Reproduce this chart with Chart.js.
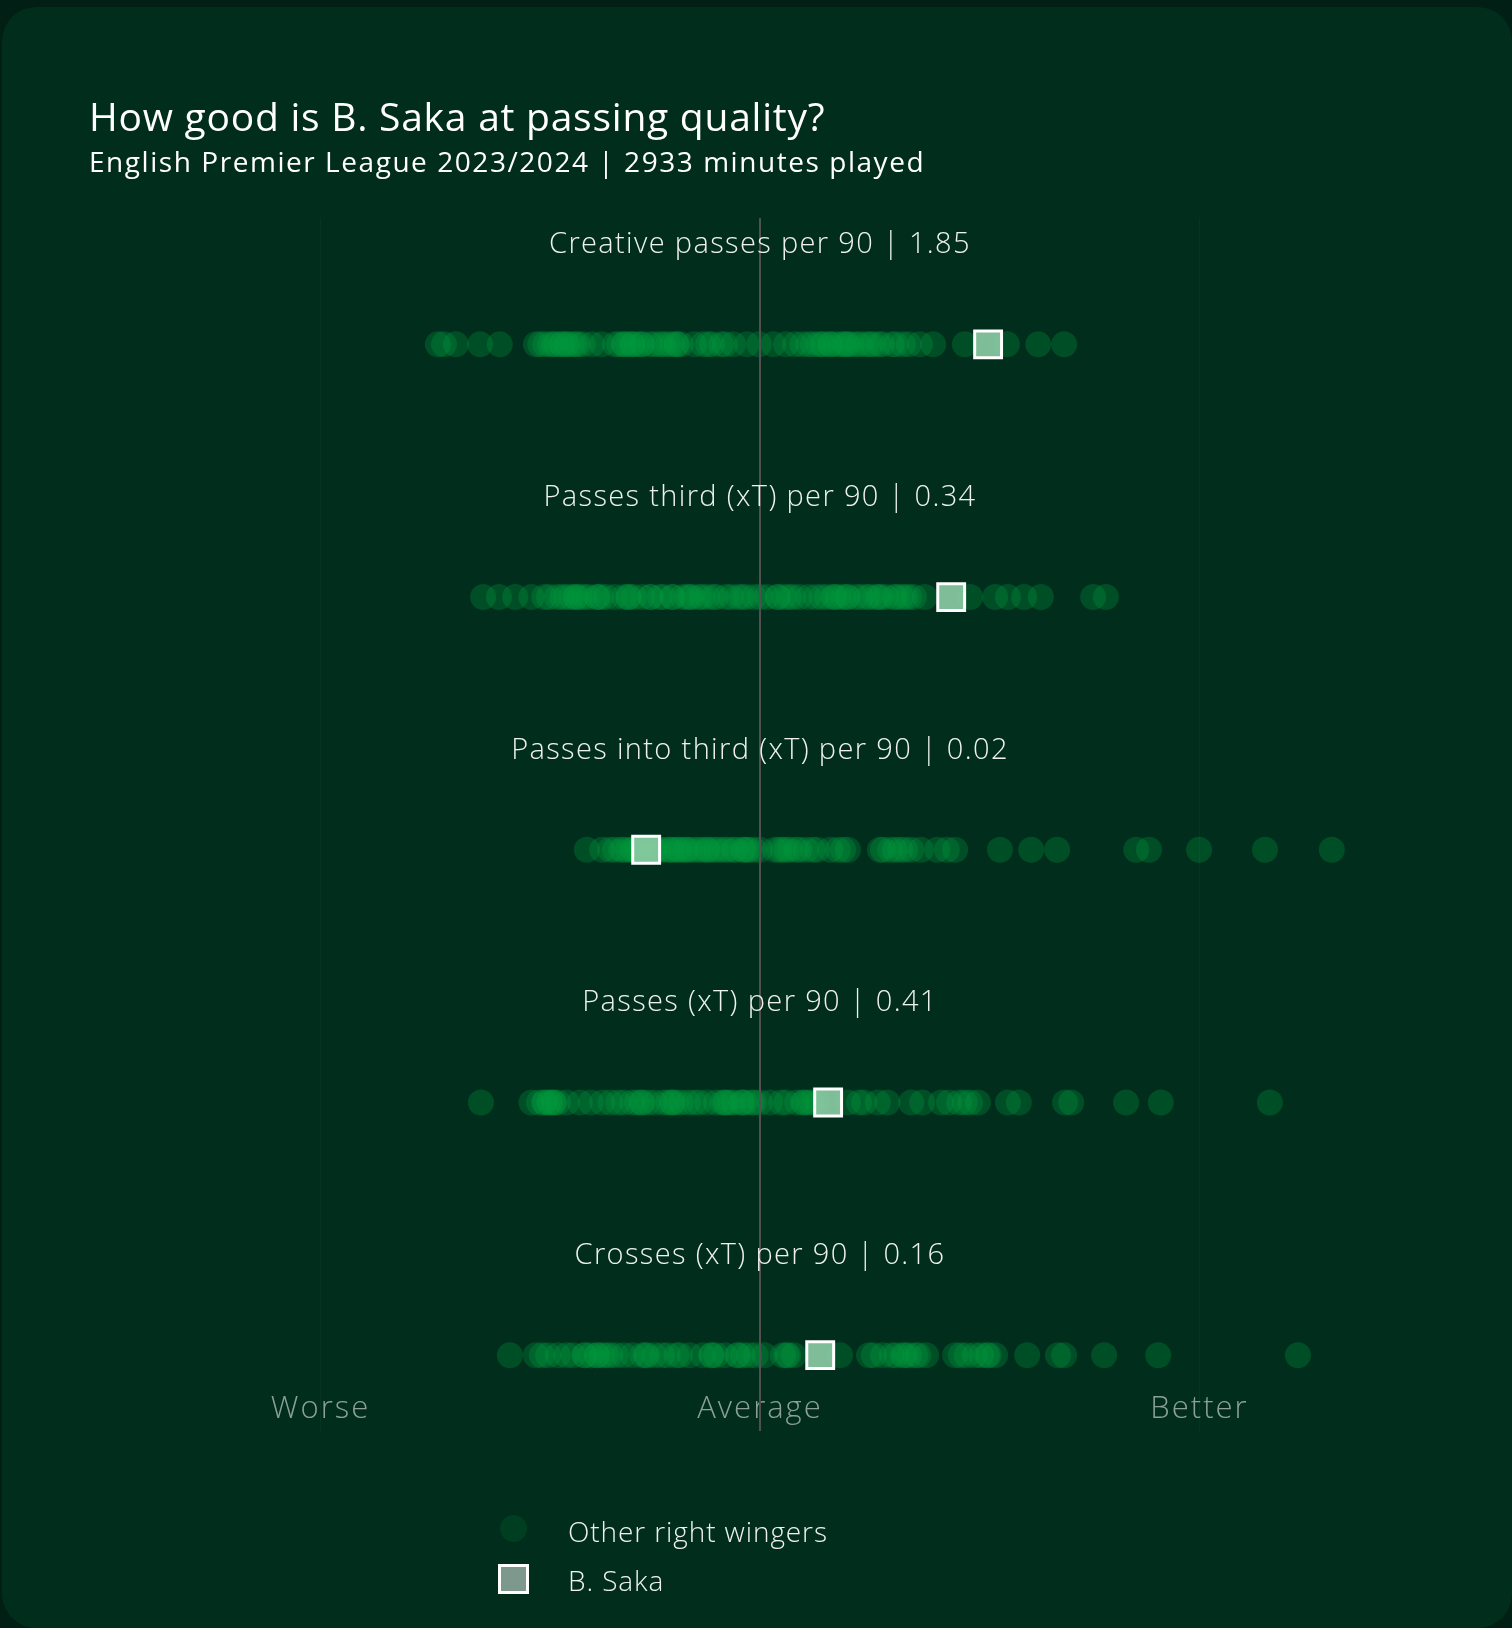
<!DOCTYPE html>
<html>
<head>
<meta charset="utf-8">
<script src="https://cdn.jsdelivr.net/npm/chart.js@4.4.1/dist/chart.umd.min.js"></script>
<style>
html,body{margin:0;padding:0;background:#011f14;width:1512px;height:1628px;overflow:hidden;font-family:'Open Sans',sans-serif;}
#card{position:absolute;left:2px;top:7px;width:1510px;height:1621px;background:#002d1c;border-radius:34px;}
#c{position:absolute;left:0;top:0;}
.t{position:absolute;white-space:nowrap;line-height:1;color:#fff;}
#title{left:89px;top:96px;font-size:39px;font-weight:500;letter-spacing:0.75px;}
#subtitle{left:89px;top:147px;font-size:28px;font-weight:500;letter-spacing:1.55px;}
.lg{left:568px;font-size:28px;font-weight:300;color:#eef1ef;letter-spacing:0.9px;}
#lgDot{position:absolute;left:500px;top:1515px;width:27px;height:27px;border-radius:50%;background:#003e22;}
#lgSq{position:absolute;left:498px;top:1564px;width:31px;height:30px;box-sizing:border-box;border:3px solid #fff;background:#7d988c;}
</style>
</head>
<body>
<div id="card"></div>
<canvas id="c" width="1512" height="1628"></canvas>
<div class="t" id="title">How good is B. Saka at passing quality?</div>
<div class="t" id="subtitle">English Premier League 2023/2024 | 2933 minutes played</div>
<div id="lgDot"></div>
<div class="t lg" style="top:1517px">Other right wingers</div>
<div id="lgSq"></div>
<div class="t lg" style="top:1566px">B. Saka</div>
<script>
// Metric names and B. Saka's per-90 values
const categories = [
  'Creative passes per 90',
  'Passes third (xT) per 90',
  'Passes into third (xT) per 90',
  'Passes (xT) per 90',
  'Crosses (xT) per 90'
];
const sakaValues = [1.85, 0.34, 0.02, 0.41, 0.16];
// Standardised position (Worse = -1, Average = 0, Better = 1)
const sakaScores = [0.519, 0.435, -0.259, 0.155, 0.137];

const otherCreative = [-0.733,-0.719,-0.692,-0.637,-0.592,-0.510,-0.500,-0.489,-0.478,-0.470,-0.464,-0.453,-0.450,-0.440,-0.439,-0.428,-0.420,-0.414,-0.403,-0.382,-0.360,-0.330,-0.321,-0.310,-0.309,-0.300,-0.291,-0.290,-0.280,-0.270,-0.268,-0.250,-0.240,-0.228,-0.220,-0.209,-0.200,-0.190,-0.189,-0.180,-0.150,-0.130,-0.118,-0.109,-0.089,-0.080,-0.061,-0.030,-0.002,0.030,0.059,0.080,0.096,0.110,0.120,0.132,0.140,0.146,0.159,0.160,0.171,0.182,0.190,0.196,0.200,0.209,0.220,0.228,0.241,0.250,0.257,0.270,0.278,0.300,0.309,0.325,0.339,0.364,0.394,0.466,0.562,0.633,0.692];
const otherPassesThird = [-0.630,-0.594,-0.557,-0.520,-0.491,-0.480,-0.462,-0.450,-0.441,-0.430,-0.420,-0.419,-0.410,-0.400,-0.390,-0.371,-0.370,-0.362,-0.350,-0.330,-0.309,-0.300,-0.298,-0.287,-0.268,-0.250,-0.248,-0.228,-0.220,-0.200,-0.198,-0.177,-0.166,-0.160,-0.155,-0.140,-0.132,-0.120,-0.107,-0.100,-0.077,-0.066,-0.050,-0.041,-0.032,-0.014,0.000,0.016,0.040,0.041,0.055,0.066,0.075,0.090,0.110,0.127,0.140,0.152,0.166,0.170,0.177,0.189,0.198,0.200,0.218,0.230,0.243,0.250,0.264,0.270,0.275,0.287,0.305,0.310,0.321,0.330,0.339,0.350,0.375,0.478,0.535,0.564,0.601,0.639,0.758,0.787];
const otherPassesIntoThird = [-0.394,-0.359,-0.341,-0.330,-0.316,-0.310,-0.300,-0.290,-0.287,-0.280,-0.275,-0.270,-0.262,-0.260,-0.250,-0.240,-0.239,-0.230,-0.223,-0.210,-0.205,-0.200,-0.190,-0.187,-0.180,-0.170,-0.168,-0.160,-0.150,-0.140,-0.132,-0.121,-0.120,-0.109,-0.100,-0.091,-0.080,-0.073,-0.060,-0.055,-0.040,-0.036,-0.030,-0.025,-0.014,0.000,0.034,0.043,0.052,0.060,0.068,0.082,0.090,0.105,0.120,0.130,0.160,0.177,0.189,0.200,0.273,0.280,0.296,0.307,0.319,0.330,0.344,0.366,0.403,0.425,0.444,0.546,0.617,0.676,0.856,0.885,0.999,1.149,1.301];
const otherPasses = [-0.635,-0.520,-0.503,-0.491,-0.490,-0.480,-0.478,-0.470,-0.469,-0.460,-0.440,-0.410,-0.385,-0.359,-0.340,-0.323,-0.310,-0.291,-0.280,-0.270,-0.268,-0.255,-0.240,-0.220,-0.209,-0.200,-0.200,-0.191,-0.180,-0.164,-0.150,-0.139,-0.120,-0.100,-0.086,-0.080,-0.077,-0.068,-0.060,-0.043,-0.040,-0.034,-0.020,-0.014,0.000,0.023,0.048,0.060,0.084,0.098,0.100,0.109,0.118,0.130,0.200,0.225,0.237,0.268,0.290,0.344,0.369,0.412,0.430,0.453,0.466,0.478,0.496,0.564,0.589,0.694,0.708,0.833,0.912,1.160];
const otherCrosses = [-0.569,-0.510,-0.496,-0.482,-0.460,-0.440,-0.425,-0.400,-0.398,-0.385,-0.371,-0.370,-0.359,-0.350,-0.341,-0.328,-0.310,-0.290,-0.268,-0.260,-0.257,-0.240,-0.223,-0.210,-0.190,-0.182,-0.160,-0.130,-0.111,-0.110,-0.100,-0.080,-0.052,-0.050,-0.039,-0.025,-0.010,0.010,0.052,0.060,0.064,0.077,0.182,0.248,0.259,0.280,0.300,0.310,0.325,0.330,0.339,0.353,0.360,0.378,0.444,0.457,0.470,0.489,0.503,0.516,0.520,0.535,0.608,0.678,0.692,0.783,0.906,1.224];

const axisTickValues = [-1, 0, 1];
const axisTickLabels = ['Worse', 'Average', 'Better'];

const otherRows = [otherCreative, otherPassesThird, otherPassesIntoThird, otherPasses, otherCrosses];

const rowLabelPlugin = {
  id: 'rowLabels',
  beforeDraw(chart) {
    chart.ctx.letterSpacing = '2px';
  },
  afterDraw(chart) {
    const {ctx, scales: {x, y}} = chart;
    ctx.save();
    ctx.letterSpacing = '1.35px';
    ctx.font = "300 29px 'Open Sans'";
    ctx.fillStyle = '#eef1ef';
    ctx.textAlign = 'center';
    ctx.textBaseline = 'alphabetic';
    categories.forEach((c, i) => {
      ctx.fillText(c + ' | ' + sakaValues[i].toFixed(2), x.getPixelForValue(0), y.getPixelForValue(i) - 91);
    });
    ctx.restore();
    ctx.letterSpacing = '0px';
  }
};

new Chart(document.getElementById('c'), {
  type: 'scatter',
  data: {
    datasets: [
      {
        label: 'B. Saka',
        data: sakaScores.map((v, i) => ({x: v, y: i})),
        pointStyle: 'rect',
        pointRadius: 19,
        backgroundColor: 'rgba(140,205,165,0.9)',
        borderColor: '#ffffff',
        borderWidth: 3,
        order: 0
      },
      {
        label: 'Other right wingers',
        data: otherRows.flatMap((arr, i) => arr.map(v => ({x: v, y: i}))),
        pointStyle: 'circle',
        pointRadius: 13,
        backgroundColor: 'rgba(0,155,62,0.3)',
        borderWidth: 0,
        order: 1
      }
    ]
  },
  options: {
    responsive: false,
    devicePixelRatio: 1,
    animation: false,
    events: [],
    layout: {autoPadding: false, padding: {top: 218, bottom: 197, left: 0, right: 0}},
    plugins: {legend: {display: false}, tooltip: {enabled: false}},
    scales: {
      x: {
        type: 'linear',
        min: -1.7292,
        max: 1.7110,
        afterBuildTicks: s => { s.ticks = axisTickValues.map(v => ({value: v})); },
        afterFit: s => { s.height = 0; },
        border: {display: false},
        grid: {
          z: 1,
          drawTicks: false,
          color: c => (c.tick && c.tick.value === 0) ? '#505050' : 'rgba(255,255,255,0.03)',
          lineWidth: c => (c.tick && c.tick.value === 0) ? 2 : 1
        },
        ticks: {
          mirror: true,
          padding: 3,
          color: '#8ca096',
          font: {family: 'Open Sans', size: 31, weight: '300'},
          callback: (v, i) => axisTickLabels[i]
        }
      },
      y: {type: 'linear', min: -0.5, max: 4.3, reverse: true, display: false}
    }
  },
  plugins: [rowLabelPlugin]
});
</script>
</body>
</html>
